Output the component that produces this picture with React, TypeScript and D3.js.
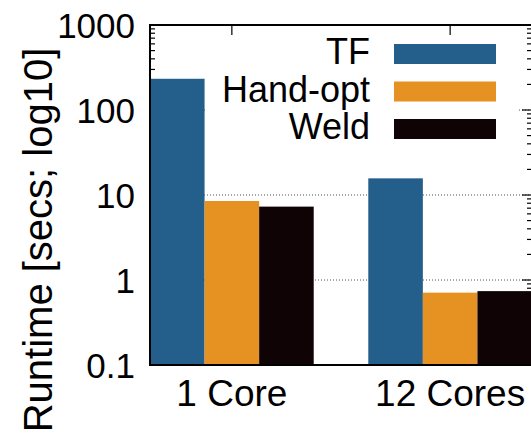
import React from "react";
import * as d3 from "d3";

// chart data
const groups = ["1 Core", "12 Cores"];
const seriesNames = ["TF", "Hand-opt", "Weld"];
const seriesColors = ["#235f8a", "#e69223", "#0f0305"];
const tfValues = [233, 15.7];
const handOptValues = [8.5, 0.71];
const weldValues = [7.3, 0.74];
const yTickValues = [0.1, 1, 10, 100, 1000];
const yTickLabels = ["0.1", "1", "10", "100", "1000"];
const gridValues = [1, 10, 100];

const seriesValues = [tfValues, handOptValues, weldValues];

const FONT = "'Liberation Sans', Arial, Helvetica, sans-serif";

export default function App() {
  const width = 531;
  const height = 433;
  const margin = { top: 25, right: -1, bottom: 68, left: 150 };
  const plotLeft = margin.left;
  const plotRight = width - margin.right; // right border falls just off the canvas
  const plotTop = margin.top;
  const plotBottom = height - margin.bottom;

  // Scales
  const x0 = d3
    .scaleBand<string>()
    .domain(groups)
    .range([plotLeft, plotRight])
    .paddingInner(0.25)
    .paddingOuter(0);

  const x1 = d3
    .scaleBand<string>()
    .domain(seriesNames)
    .range([0, x0.bandwidth()])
    .padding(0);

  const y = d3.scaleLog().domain([0.1, 1000]).range([plotBottom, plotTop]);

  // minor log ticks (2..9 in each decade)
  const minorTicks: number[] = [];
  for (let k = -1; k < 3; k++) {
    for (let m = 2; m <= 9; m++) minorTicks.push(m * Math.pow(10, k));
  }

  const groupCenter = (g: string) => (x0(g) ?? 0) + x0.bandwidth() / 2;

  // legend layout
  const legendTextX = 370;
  const legendRectX = 394;
  const legendRectW = 102;
  const legendRowH = 37.5;
  const legendTop = 44;

  return (
    <svg
      width={width}
      height={height}
      style={{ position: "absolute", left: 0, top: 0, display: "block", background: "#fff" }}
      fontFamily={FONT}
    >
      {/* grid */}
      {gridValues.map((v) => (
        <line
          key={`grid-${v}`}
          x1={plotLeft}
          x2={plotRight}
          y1={y(v)}
          y2={y(v)}
          stroke="#555"
          strokeWidth={1}
          strokeDasharray="1,2"
        />
      ))}

      {/* y ticks (left + right mirror) */}
      {minorTicks.map((v) => (
        <g key={`mt-${v}`}>
          <line x1={plotLeft} x2={plotLeft + 5} y1={y(v)} y2={y(v)} stroke="#000" strokeWidth={1.2} />
          <line x1={plotRight - 5} x2={plotRight} y1={y(v)} y2={y(v)} stroke="#000" strokeWidth={1.2} />
        </g>
      ))}
      {yTickValues.map((v) => (
        <g key={`Mt-${v}`}>
          <line x1={plotLeft} x2={plotLeft + 10} y1={y(v)} y2={y(v)} stroke="#000" strokeWidth={1.2} />
          <line x1={plotRight - 10} x2={plotRight} y1={y(v)} y2={y(v)} stroke="#000" strokeWidth={1.2} />
        </g>
      ))}

      {/* x ticks (bottom + top mirror) */}
      {groups.map((g) => (
        <g key={`xt-${g}`}>
          <line x1={groupCenter(g)} x2={groupCenter(g)} y1={plotBottom} y2={plotBottom - 10} stroke="#000" strokeWidth={1.2} />
          <line x1={groupCenter(g)} x2={groupCenter(g)} y1={plotTop} y2={plotTop + 10} stroke="#000" strokeWidth={1.2} />
        </g>
      ))}

      {/* bars */}
      {groups.map((g, gi) => (
        <g key={`bars-${g}`} transform={`translate(${x0(g)},0)`}>
          {seriesNames.map((s, si) => {
            const v = seriesValues[si][gi];
            return (
              <rect
                key={s}
                x={x1(s)}
                y={y(v)}
                width={x1.bandwidth()}
                height={plotBottom - y(v)}
                fill={seriesColors[si]}
              />
            );
          })}
        </g>
      ))}

      {/* legend (opaque) */}
      <rect x={206} y={37} width={311} height={113} fill="#fff" />
      {seriesNames.map((s, i) => (
        <g key={`leg-${s}`}>
          <text
            x={legendTextX}
            y={legendTop + i * legendRowH + 20}
            textAnchor="end"
            fontSize={36}
            fill="#000"
          >
            {s}
          </text>
          <rect
            x={legendRectX}
            y={legendTop + i * legendRowH}
            width={legendRectW}
            height={20}
            fill={seriesColors[i]}
          />
        </g>
      ))}

      {/* border */}
      <rect
        x={plotLeft}
        y={plotTop}
        width={plotRight - plotLeft}
        height={plotBottom - plotTop}
        fill="none"
        stroke="#000"
        strokeWidth={2}
      />

      {/* y tick labels */}
      {yTickValues.map((v, i) => (
        <text
          key={`yl-${v}`}
          x={plotLeft - 15}
          y={y(v) + 12.5}
          textAnchor="end"
          fontSize={35}
          fill="#000"
        >
          {yTickLabels[i]}
        </text>
      ))}

      {/* x tick labels */}
      {groups.map((g) => (
        <text key={`xl-${g}`} x={groupCenter(g)} y={406} textAnchor="middle" fontSize={37} fill="#000">
          {g}
        </text>
      ))}

      {/* y axis label */}
      <text
        transform={`translate(52,240) rotate(-90)`}
        textAnchor="middle"
        fontSize={40}
        fill="#000"
      >
        Runtime [secs; log10]
      </text>
    </svg>
  );
}
